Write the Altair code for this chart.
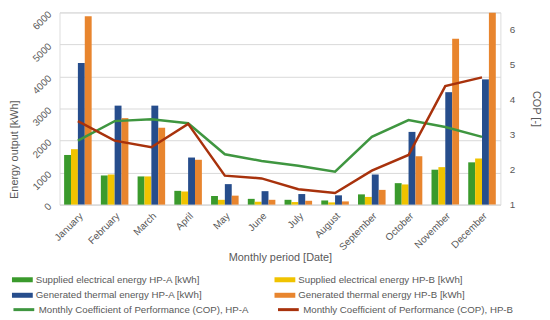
import altair as alt
import pandas as pd

months = ["January", "February", "March", "April", "May", "June", "July",
          "August", "September", "October", "November", "December"]
elec_a = [1550, 910, 880, 430, 270, 180, 150, 130, 320, 670, 1090, 1320]
elec_b = [1730, 940, 880, 410, 150, 90, 80, 70, 240, 630, 1170, 1440]
therm_a = [4420, 3090, 3090, 1470, 640, 420, 330, 290, 940, 2270, 3510, 3910]
therm_b = [5880, 2700, 2400, 1400, 280, 150, 120, 100, 460, 1510, 5180, 5990]
cop_a = [2.83, 3.39, 3.44, 3.33, 2.44, 2.25, 2.11, 1.94, 2.94, 3.42, 3.22, 2.94]
cop_b = [3.39, 2.83, 2.64, 3.31, 1.83, 1.75, 1.44, 1.33, 1.97, 2.42, 4.39, 4.64]

bar_names = ["Supplied electrical energy HP-A [kWh]",
             "Supplied electrical energy HP-B [kWh]",
             "Generated thermal energy HP-A [kWh]",
             "Generated thermal energy HP-B [kWh]"]
bar_colors = ["#3a9a2c", "#f0c300", "#264d8c", "#e8852e"]
line_names = ["Monthly Coefficient of Performance (COP), HP-A",
              "Monthly Coefficient of Performance (COP), HP-B"]
line_colors = ["#3f9640", "#a8320c"]

# legend is filled column by column, so order the domain for a row-wise reading
legend_order = [bar_names[0], bar_names[2], bar_names[1], bar_names[3]]
legend_colors = [bar_colors[0], bar_colors[2], bar_colors[1], bar_colors[3]]

rows = []
for series, vals in zip(bar_names, [elec_a, elec_b, therm_a, therm_b]):
    for m, v in zip(months, vals):
        rows.append({"month": m, "series": series, "value": v})
bars_df = pd.DataFrame(rows)

lrows = []
for series, vals in zip(line_names, [cop_a, cop_b]):
    for m, v in zip(months, vals):
        lrows.append({"month": m, "series": series, "cop": v})
lines_df = pd.DataFrame(lrows)

FONT = "Liberation Sans"
GREY = "#595959"

x_enc = alt.X("month:N", sort=months,
              scale=alt.Scale(paddingInner=0.25, paddingOuter=0.125),
              axis=alt.Axis(title="Monthly period [Date]", labelAngle=-45,
                            ticks=False, domainColor="#d9d9d9",
                            labelColor=GREY, titleColor=GREY,
                            labelFontSize=10, titleFontSize=11,
                            titleFontWeight="normal", labelPadding=6,
                            titlePadding=0))

bars = alt.Chart(bars_df).mark_bar().encode(
    x=x_enc,
    xOffset=alt.XOffset("series:N", sort=bar_names,
                        scale=alt.Scale(domain=bar_names, paddingInner=0, paddingOuter=0)),
    y=alt.Y("value:Q", scale=alt.Scale(domain=[0, 6000], nice=False),
            axis=alt.Axis(title="Energy output [kWh]", values=[0, 1000, 2000, 3000, 4000, 5000, 6000],
                          format="d", labelAngle=-45, ticks=False, domain=False,
                          gridColor="#d9d9d9", labelColor=GREY, titleColor=GREY,
                          labelFontSize=10, titleFontSize=11, titleFontWeight="normal",
                          labelPadding=10, titleX=-45, titleY=138,
                          titleBaseline="middle")),
    color=alt.Color("series:N",
                    scale=alt.Scale(domain=legend_order, range=legend_colors),
                    legend=alt.Legend(title=None, orient="none", legendX=-48, legendY=259,
                                      columns=2, columnPadding=72, rowPadding=-5,
                                      symbolType="M-1,-0.24L1,-0.24L1,0.24L-1,0.24Z",
                                      symbolSize=441, symbolStrokeWidth=0,
                                      labelFontSize=9.8, labelColor=GREY, labelLimit=400,
                                      labelOffset=3)),
)

lines = alt.Chart(lines_df).mark_line(strokeWidth=2.5).encode(
    x=alt.X("month:N", sort=months),
    y=alt.Y("cop:Q", scale=alt.Scale(domain=[1, 6.5], nice=False),
            axis=alt.Axis(title="COP [-]", orient="right", values=[1, 2, 3, 4, 5, 6],
                          grid=False, ticks=False, domain=False,
                          labelColor=GREY, titleColor=GREY, labelFontSize=10,
                          titleFontSize=11, titleFontWeight="normal",
                          labelPadding=9, titlePadding=16)),
    stroke=alt.Stroke("series:N", sort=line_names,
                      scale=alt.Scale(domain=line_names, range=line_colors),
                      legend=alt.Legend(title=None, orient="none", legendX=-48, legendY=288,
                                        columns=2, columnPadding=22,
                                        symbolType="stroke", symbolSize=441,
                                        symbolStrokeWidth=3,
                                        labelFontSize=9.8, labelColor=GREY, labelLimit=400,
                                        labelOffset=3)),
)

chart = alt.layer(bars, lines).resolve_scale(y="independent").properties(
    width=445, height=194,
    autosize=alt.AutoSizeParams(type="none"),
    padding={"top": 3, "left": 52, "right": 42, "bottom": 115},
).configure_view(stroke=None).configure(font=FONT)

chart.save("out.html", embed_options={"renderer": "svg", "actions": False})
